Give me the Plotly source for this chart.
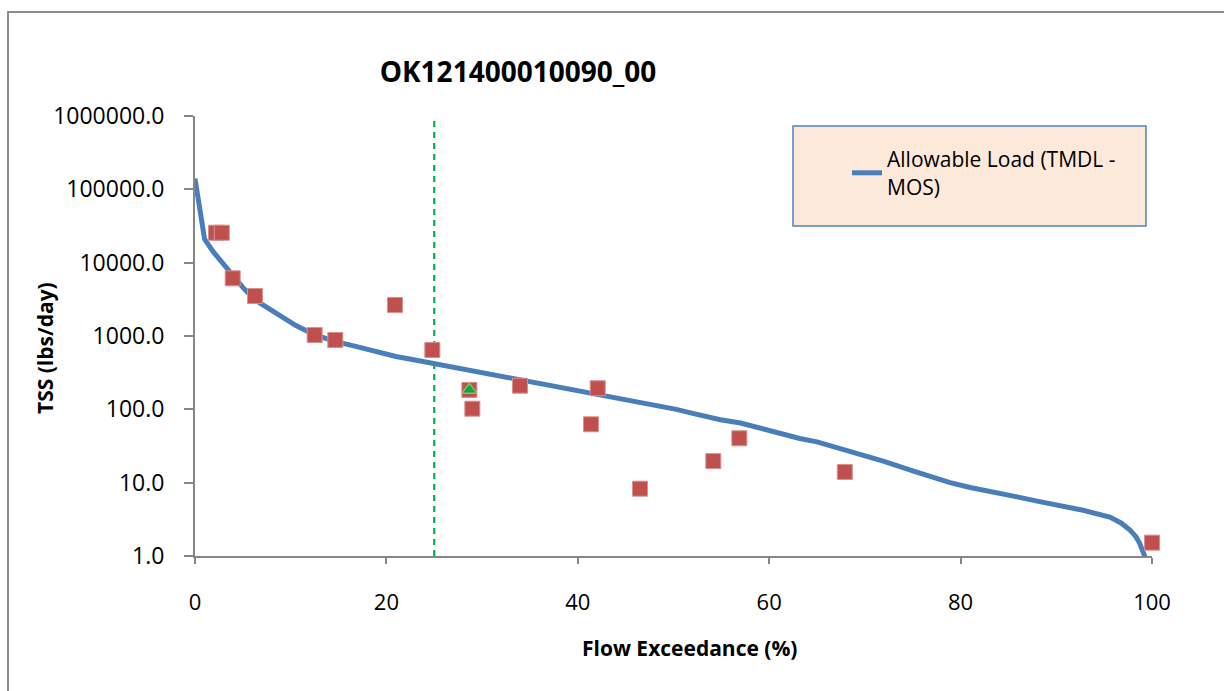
import plotly.graph_objects as go

# Load duration curve: allowable load (TMDL - MOS) vs flow exceedance
curve_x = [0, 1.0, 1.9, 2.7, 3.66, 5.0, 6.27, 7.5, 8.9, 10.5, 12.4, 14.5, 16.9, 19.0,
           21.0, 23.0, 25.0, 27.5, 29.8, 32.0, 35.3, 38.0, 40.0, 42.3, 45.0, 47.0,
           49.3, 50.3, 52.0, 54.9, 57.0, 59.0, 60.0, 61.0, 63.2, 65.0, 67.9, 70.0,
           72.0, 75.0, 78.9, 81.0, 83.0, 85.9, 88.0, 90.0, 92.8, 95.6, 96.8, 97.7,
           98.3, 98.7, 99.0, 99.3]
curve_y = [140000, 21000, 14100, 10500, 7160, 4600, 3100, 2450, 1830, 1400, 1050, 850,
           715, 610, 525, 470, 420, 370, 320, 285, 240, 205, 185, 157, 135, 120,
           107, 100, 88, 72, 65, 56, 50, 47, 40, 36, 28, 23, 19.5, 14.5, 10, 8.6,
           7.5, 6.4, 5.6, 5.0, 4.2, 3.4, 2.8, 2.25, 1.85, 1.5, 1.2, 0.95]

# Observed TSS loads
obs_x = [2.2, 2.8, 3.94, 6.27, 12.5, 14.66, 20.9, 24.8, 28.67, 28.98, 33.96, 42.08,
         41.38, 46.5, 54.16, 56.88, 67.9, 100.0]
obs_y = [25600, 25600, 6120, 3514, 1032, 883, 2650, 645, 184, 102, 210, 194,
         62.5, 8.28, 19.7, 40.3, 14.0, 1.52]

# Highlighted observation
tri_x = [28.67]
tri_y = [184]

# Vertical divider at 25% exceedance
divider_x = 25

y_ticks = [1, 10, 100, 1000, 10000, 100000, 1000000]
y_tick_text = ["1.0", "10.0", "100.0", "1000.0", "10000.0", "100000.0", "1000000.0"]
x_ticks = [0, 20, 40, 60, 80, 100]

FONT = "Open Sans"

# plot-area geometry in pixels, used to place paper-referenced decorations
L, R, T, B = 195, 1152, 116, 556
PW, PH = R - L, B - T


def px(x):
    return (x - L) / PW


def py(y):
    return (B - y) / PH


fig = go.Figure()

fig.add_trace(go.Scatter(
    x=[divider_x, divider_x], y=[1, 1000000], mode="lines",
    line=dict(color="#00B050", width=2.2, dash="6px,5px"),
    showlegend=False, hoverinfo="skip"))

fig.add_trace(go.Scatter(
    x=curve_x, y=curve_y, mode="lines",
    name="Allowable Load (TMDL -<br>MOS)",
    line=dict(color="#4A7EBB", width=5)))

fig.add_trace(go.Scatter(
    x=obs_x, y=obs_y, mode="markers", showlegend=False, cliponaxis=False,
    marker=dict(symbol="square", size=15, color="#C0504D",
                line=dict(color="#D9908E", width=1))))

fig.add_trace(go.Scatter(
    x=tri_x, y=tri_y, mode="markers", showlegend=False, cliponaxis=False,
    marker=dict(symbol="triangle-up", size=13, color="#00A84F",
                line=dict(color="#9BBB59", width=1.5))))

fig.update_layout(
    width=1224, height=691,
    margin=dict(l=L, r=1224 - R, t=T, b=691 - B),
    paper_bgcolor="white", plot_bgcolor="white",
    font=dict(family=FONT, size=23, color="black"),
    title=dict(text="<b>OK121400010090_00</b>", x=518 / 1224, xanchor="center",
               y=1 - 72 / 691, yanchor="middle",
               font=dict(family=FONT, size=28, color="black")),
    xaxis=dict(range=[0, 100], tickvals=x_ticks, showgrid=False, zeroline=False,
               showline=True, linecolor="#868686", linewidth=2,
               ticks="outside", ticklen=6, tickcolor="#868686", tickwidth=2,
               ticklabelstandoff=20, tickfont=dict(size=22)),
    yaxis=dict(type="log", range=[0, 6], tickvals=y_ticks, ticktext=y_tick_text,
               showgrid=False, zeroline=False,
               showline=True, linecolor="#868686", linewidth=2,
               ticks="outside", ticklen=9, tickcolor="#868686", tickwidth=2,
               ticklabelstandoff=15, tickfont=dict(size=23)),
    legend=dict(x=px(847), y=py(139), xanchor="left", yanchor="top",
                bgcolor="rgba(0,0,0,0)", borderwidth=0,
                font=dict(family=FONT, size=21)),
    annotations=[
        dict(text="<b>Flow Exceedance (%)</b>", xref="paper", yref="paper",
             x=px(689), y=py(648), xanchor="center", yanchor="middle",
             showarrow=False, font=dict(family=FONT, size=21)),
        dict(text="<b>TSS (lbs/day)</b>", xref="paper", yref="paper",
             x=px(45), y=py(348), xanchor="center", yanchor="middle",
             textangle=-90, showarrow=False, font=dict(family=FONT, size=21)),
    ],
    shapes=[
        # legend panel
        dict(type="rect", xref="paper", yref="paper", layer="below",
             x0=px(793), x1=px(1146), y0=py(226), y1=py(126),
             fillcolor="#FDE9D9", line=dict(color="#4F81BD", width=1.5)),
        # chart frame
        dict(type="rect", xref="paper", yref="paper", layer="below",
             x0=px(8), x1=px(1260), y0=py(720), y1=py(12),
             fillcolor="rgba(0,0,0,0)", line=dict(color="#8C8C8C", width=2)),
    ],
)

fig.write_html("out.html")
